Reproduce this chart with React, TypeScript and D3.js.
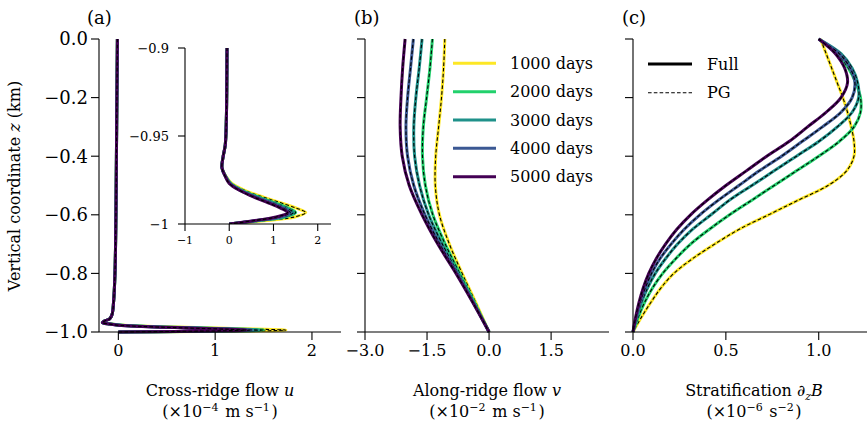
import React from 'react';
import * as d3 from 'd3';

// time labels and colours of the five profiles
const days = [1000, 2000, 3000, 4000, 5000];
const dayColors = ['#fde725', '#22d16c', '#1f918a', '#3b5893', '#440154'];

// tick values
const zTicks = [0, -0.2, -0.4, -0.6, -0.8, -1.0];
const uTicks = [0, 1, 2];
const vTicks = [-3, -1.5, 0, 1.5];
const bTicks = [0, 0.5, 1.0];
const insetZTicks = [-0.9, -0.95, -1];
const insetUTicks = [-1, 0, 1, 2];

// (a) cross-ridge flow u (x1e-4 m/s)
const zA = [0, -0.2, -0.4, -0.6, -0.8, -0.9, -0.94, -0.955, -0.962, -0.968, -0.973, -0.977, -0.981, -0.985, -0.988, -0.991, -0.9935, -0.996, -0.998, -1];
const u1000 = [-0.01, -0.015, -0.02, -0.025, -0.035, -0.05, -0.065, -0.09, -0.14, -0.165, -0.07, 0.06, 0.36, 0.8, 1.17, 1.52, 1.73, 1.48, 0.85, 0];
const u2000 = [-0.01, -0.015, -0.02, -0.025, -0.035, -0.05, -0.065, -0.09, -0.14, -0.165, -0.08, 0.04, 0.3, 0.7, 1.04, 1.34, 1.5, 1.26, 0.7, 0];
const u3000 = [-0.01, -0.015, -0.02, -0.025, -0.035, -0.05, -0.065, -0.09, -0.14, -0.165, -0.08, 0.03, 0.28, 0.66, 0.99, 1.28, 1.45, 1.2, 0.66, 0];
const u4000 = [-0.01, -0.015, -0.02, -0.025, -0.035, -0.05, -0.065, -0.09, -0.14, -0.165, -0.085, 0.015, 0.26, 0.62, 0.94, 1.22, 1.38, 1.14, 0.62, 0];
const u5000 = [-0.01, -0.015, -0.02, -0.025, -0.035, -0.05, -0.065, -0.09, -0.14, -0.165, -0.09, 0, 0.24, 0.58, 0.88, 1.16, 1.32, 1.06, 0.58, 0];

// (b) along-ridge flow v (x1e-2 m/s)
const zB = [0, -0.1, -0.2, -0.3, -0.4, -0.5, -0.6, -0.7, -0.8, -0.9, -1];
const v1000 = [-1.07, -1.1, -1.15, -1.22, -1.29, -1.3, -1.2, -0.96, -0.65, -0.32, 0];
const v2000 = [-1.37, -1.43, -1.51, -1.59, -1.61, -1.54, -1.36, -1.06, -0.71, -0.35, 0];
const v3000 = [-1.62, -1.69, -1.77, -1.82, -1.8, -1.68, -1.46, -1.13, -0.75, -0.37, 0];
const v4000 = [-1.83, -1.9, -1.97, -2.01, -1.97, -1.82, -1.55, -1.19, -0.78, -0.38, 0];
const v5000 = [-2.03, -2.09, -2.13, -2.15, -2.1, -1.93, -1.62, -1.24, -0.8, -0.39, 0];

// (c) stratification dB/dz (x1e-6 s^-2)
const zC = [0, -0.05, -0.1, -0.15, -0.2, -0.25, -0.3, -0.35, -0.4, -0.45, -0.5, -0.55, -0.6, -0.65, -0.7, -0.75, -0.8, -0.85, -0.9, -0.95, -1];
const n1000 = [1.01, 1.04, 1.07, 1.1, 1.13, 1.155, 1.175, 1.19, 1.19, 1.15, 1.05, 0.89, 0.73, 0.57, 0.44, 0.32, 0.22, 0.15, 0.095, 0.045, 0];
const n2000 = [1.0, 1.1, 1.16, 1.2, 1.225, 1.225, 1.19, 1.11, 1.0, 0.88, 0.76, 0.64, 0.52, 0.41, 0.31, 0.23, 0.16, 0.105, 0.062, 0.028, 0];
const n3000 = [1.0, 1.12, 1.18, 1.21, 1.215, 1.18, 1.1, 1.0, 0.88, 0.76, 0.64, 0.52, 0.42, 0.32, 0.24, 0.175, 0.12, 0.078, 0.045, 0.02, 0];
const n4000 = [1.0, 1.11, 1.17, 1.195, 1.18, 1.12, 1.02, 0.91, 0.8, 0.68, 0.57, 0.46, 0.36, 0.275, 0.205, 0.145, 0.1, 0.066, 0.038, 0.017, 0];
const n5000 = [1.0, 1.09, 1.14, 1.155, 1.12, 1.04, 0.94, 0.84, 0.72, 0.61, 0.5, 0.4, 0.31, 0.235, 0.175, 0.125, 0.085, 0.055, 0.032, 0.014, 0];

const uProfiles = [u1000, u2000, u3000, u4000, u5000];
const vProfiles = [v1000, v2000, v3000, v4000, v5000];
const nProfiles = [n1000, n2000, n3000, n4000, n5000];

const font = 'DejaVu Serif';

const Profiles = ({ x, y, zs, series }) => {
    const line = d3.line<number>()
        .x(d => x(d))
        .y((d, i) => y(zs[i]))
        .curve(d3.curveCatmullRom.alpha(0.5));
    return (
        <g>
            {series.map((s, i) => (
                <g key={i}>
                    <path d={line(s)} fill="none" stroke={dayColors[i]} strokeWidth={3} />
                    <path d={line(s)} fill="none" stroke="#000" strokeWidth={1.1} strokeDasharray="3.6,2.2" />
                </g>
            ))}
        </g>
    );
};

const LeftAxis = ({ x0, y, ticks, fmt, size = 8, fontSize = 18, pad = 3, labels = true }) => {
    const [a, b] = y.range();
    return (
        <g>
            <line x1={x0} x2={x0} y1={a} y2={b} stroke="#000" strokeWidth={1.1} />
            {ticks.map(t => (
                <g key={t}>
                    <line x1={x0 - size} x2={x0} y1={y(t)} y2={y(t)} stroke="#000" strokeWidth={1.1} />
                    {labels && <text x={x0 - size - pad} y={y(t)} dy="0.36em" textAnchor="end" fontSize={fontSize}>{fmt(t)}</text>}
                </g>
            ))}
        </g>
    );
};

const BottomAxis = ({ y0, x, ticks, fmt, size = 8, fontSize = 16, pad = 16 }) => {
    const [a, b] = x.range();
    return (
        <g>
            <line x1={a} x2={b} y1={y0} y2={y0} stroke="#000" strokeWidth={1.1} />
            {ticks.map(t => (
                <g key={t}>
                    <line x1={x(t)} x2={x(t)} y1={y0} y2={y0 + size} stroke="#000" strokeWidth={1.1} />
                    <text x={x(t)} y={y0 + size + pad} textAnchor="middle" fontSize={fontSize}>{fmt(t)}</text>
                </g>
            ))}
        </g>
    );
};

const Sup = ({ children }) => (
    <>
        <tspan dy={-6} fontSize={11}>{children}</tspan>
        <tspan dy={6}>{'\u200a'}</tspan>
    </>
);

export default function App() {
    const y = d3.scaleLinear().domain([-1, 0]).range([332, 39]);
    const xA = d3.scaleLinear().domain([-0.2, 2.3]).range([99, 341]);
    const xB = d3.scaleLinear().domain([-3, 2.9]).range([365, 609]);
    const xC = d3.scaleLinear().domain([0, 1.26]).range([633, 867]);
    const xI = d3.scaleLinear().domain([-1, 2.3]).range([185, 331]);
    const yI = d3.scaleLinear().domain([-1, -0.9]).range([224, 48]);

    const f1 = d3.format('.1f');
    const f0 = d3.format('');

    return (
        <svg width={868} height={423} style={{ position: 'absolute', left: 0, top: 0 }}
             fontFamily={font} fill="#000">
            <defs>
                <clipPath id="inset-clip">
                    <rect x={185} y={48} width={146} height={176} />
                </clipPath>
            </defs>

            {/* panel (a) */}
            <text x={87} y={24} fontSize={18}>(a)</text>
            <Profiles x={xA} y={y} zs={zA} series={uProfiles} />
            <LeftAxis x0={99} y={y} ticks={zTicks} fmt={f1} />
            <BottomAxis y0={332} x={xA} ticks={uTicks} fmt={f0} />
            <text transform="translate(20,186) rotate(-90)" textAnchor="middle" fontSize={16}>
                Vertical coordinate <tspan fontStyle="italic">z</tspan> (km)
            </text>
            <text x={220} y={396} textAnchor="middle" fontSize={16}>
                Cross-ridge flow <tspan fontStyle="italic">u</tspan>
            </text>
            <text x={220} y={417} textAnchor="middle" fontSize={16}>
                (×10<Sup>−4</Sup> m s<Sup>−1</Sup>)
            </text>

            {/* inset */}
            <g clipPath="url(#inset-clip)">
                <Profiles x={xI} y={yI} zs={zA} series={uProfiles} />
            </g>
            <LeftAxis x0={185} y={yI} ticks={insetZTicks} fmt={f0} size={7} fontSize={13} pad={9} />
            <BottomAxis y0={224} x={xI} ticks={insetUTicks} fmt={f0} size={7} fontSize={11} pad={13} />

            {/* panel (b) */}
            <text x={354} y={24} fontSize={18}>(b)</text>
            <Profiles x={xB} y={y} zs={zB} series={vProfiles} />
            <LeftAxis x0={365} y={y} ticks={zTicks} fmt={f1} labels={false} />
            <BottomAxis y0={332} x={xB} ticks={vTicks} fmt={f1} />
            <text x={487} y={396} textAnchor="middle" fontSize={16}>
                Along-ridge flow <tspan fontStyle="italic">v</tspan>
            </text>
            <text x={487} y={417} textAnchor="middle" fontSize={16}>
                (×10<Sup>−2</Sup> m s<Sup>−1</Sup>)
            </text>
            {days.map((d, i) => (
                <g key={d} transform={`translate(0,${63.3 + i * 28.35})`}>
                    <line x1={453} x2={496} stroke={dayColors[i]} strokeWidth={3} />
                    <text x={510} dy="0.36em" fontSize={16}>{d} days</text>
                </g>
            ))}

            {/* panel (c) */}
            <text x={622} y={24} fontSize={18}>(c)</text>
            <Profiles x={xC} y={y} zs={zC} series={nProfiles} />
            <LeftAxis x0={633} y={y} ticks={zTicks} fmt={f1} labels={false} />
            <BottomAxis y0={332} x={xC} ticks={bTicks} fmt={f1} />
            <text x={754} y={396} textAnchor="middle" fontSize={16}>
                Stratification ∂<tspan dy={4} fontSize={11} fontStyle="italic">z</tspan><tspan dy={-4} fontStyle="italic">B</tspan>
            </text>
            <text x={754} y={417} textAnchor="middle" fontSize={16}>
                (×10<Sup>−6</Sup> s<Sup>−2</Sup>)
            </text>
            <line x1={648} x2={692} y1={64} y2={64} stroke="#000" strokeWidth={2.8} />
            <text x={707} y={64} dy="0.36em" fontSize={16}>Full</text>
            <line x1={648} x2={692} y1={92.7} y2={92.7} stroke="#000" strokeWidth={1.1} strokeDasharray="3.6,2.2" />
            <text x={707} y={92.7} dy="0.36em" fontSize={16}>PG</text>
        </svg>
    );
}
